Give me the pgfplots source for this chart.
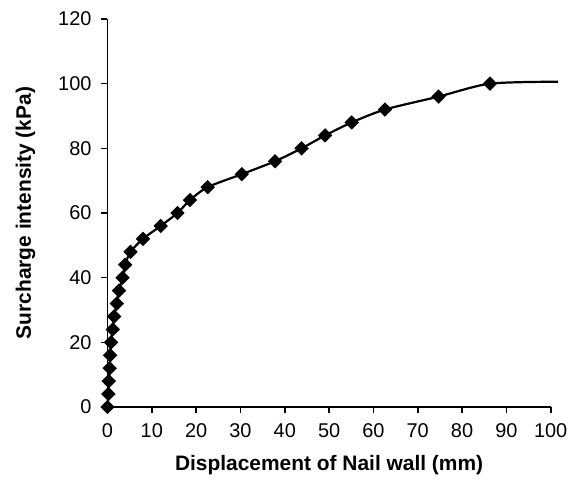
\documentclass[border=0pt]{standalone}
\usepackage{fontspec}
\setmainfont{Liberation Sans}
\usepackage{pgfplots}
\pgfplotsset{compat=1.18}

\begin{document}
\begin{tikzpicture}[x=1bp,y=1bp]
\useasboundingbox (-53.75,-36.5) rectangle (236.25,203.5);
\begin{axis}[
    at={(0,0)}, anchor=south west,
    scale only axis,
    width=221.6bp, height=194bp,
    xmin=0, xmax=100, ymin=0, ymax=120,
    xtick={0,10,...,100},
    ytick={0,20,...,120},
    axis lines=left,
    axis line style={-, line width=0.9bp},
    tick align=outside,
    major tick length=3bp,
    tick style={line width=0.8bp, black},
    clip=false,
    font=\fontsize{10}{12}\selectfont,
    /pgf/number format/assume math mode=true,
    xticklabel style={yshift=-2bp},
    yticklabel style={xshift=-1.5bp},
    xlabel={\bfseries Displacement of Nail wall (mm)},
    ylabel={\bfseries Surcharge intensity (kPa)},
    xlabel style={font=\fontsize{10.5}{12}\selectfont, at={(axis description cs:0.5,0)}, anchor=center, yshift=-29bp},
    ylabel style={font=\fontsize{10.5}{12}\selectfont, at={(axis description cs:0,0.5)}, anchor=center, yshift=41bp},
]
\addplot[black, line width=1.1bp, smooth, tension=0.45,
    mark=square*, mark size=2bp, mark options={rotate=45, solid, fill=black},
    mark indices={1,...,26}] coordinates {
    (0,0) (0.2,4) (0.3,8) (0.5,12) (0.6,16) (0.8,20) (1.2,24) (1.5,28)
    (2.1,32) (2.6,36) (3.4,40) (4.0,44) (5.2,48) (8.0,52) (12.0,56)
    (15.8,60) (18.6,64) (22.6,68) (30.3,72) (37.8,76) (43.8,80)
    (49.1,84) (55.1,88) (62.6,92) (74.7,96) (86.3,100) (101.7,100.6)
};
\end{axis}
\end{tikzpicture}
\end{document}
